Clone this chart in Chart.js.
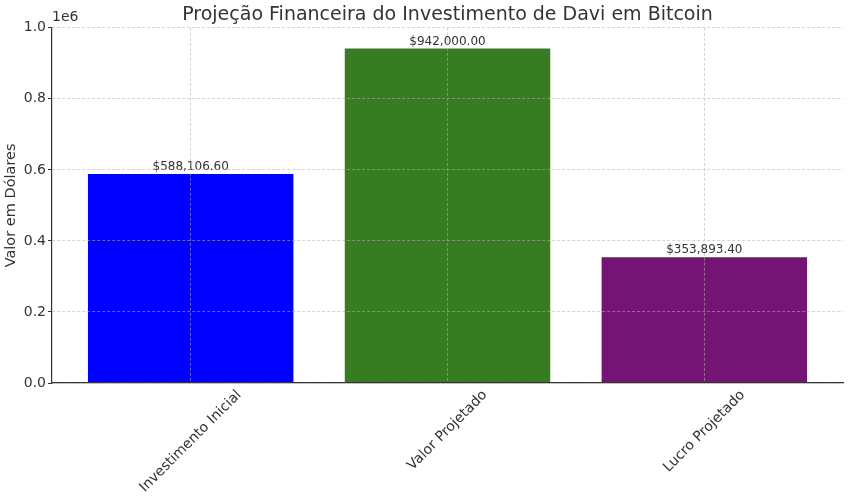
<!DOCTYPE html>
<html lang="pt">
<head>
<meta charset="utf-8">
<title>Projeção Financeira do Investimento de Davi em Bitcoin</title>
<script src="https://cdn.jsdelivr.net/npm/chart.js@4/dist/chart.umd.min.js"></script>
<style>
  html, body { margin: 0; padding: 0; background: #fff; }
  #wrap { width: 850px; height: 498px; }
</style>
</head>
<body>
<div id="wrap"><canvas id="investChart" width="850" height="498"></canvas></div>
<script>
// Data
const categories = ["Investimento Inicial", "Valor Projetado", "Lucro Projetado"];
const values = [588106.60, 942000.00, 353893.40];
const barColors = ["#0000ff", "#387c22", "#741474"];
const yTicks = [0, 200000, 400000, 600000, 800000, 1000000];

const FONT = "'DejaVu Sans', sans-serif";
const TEXT = "#333333";
const GRID = "rgba(176,176,176,0.7)";

const money = (v) =>
  "$" + v.toLocaleString("en-US", { minimumFractionDigits: 2, maximumFractionDigits: 2 });

// value labels, rotated category labels and the "1e6" offset text
const extras = {
  id: "extras",
  afterDatasetsDraw(chart) {
    const ctx = chart.ctx;
    const meta = chart.getDatasetMeta(0);
    ctx.save();
    ctx.font = "12px " + FONT;
    ctx.fillStyle = TEXT;
    ctx.textAlign = "center";
    ctx.textBaseline = "bottom";
    meta.data.forEach((bar, i) => {
      ctx.fillText(money(values[i]), bar.x, bar.y - 1);
    });
    ctx.restore();
  },
  afterDraw(chart) {
    const ctx = chart.ctx;
    const area = chart.chartArea;
    const xs = chart.scales.x;
    ctx.save();
    ctx.fillStyle = TEXT;
    ctx.font = "14px " + FONT;
    // category labels, 45 degrees, centred under the tick like matplotlib
    categories.forEach((label, i) => {
      const x = xs.getPixelForValue(i);
      const w = ctx.measureText(label).width;
      const h = (w + 14) * Math.SQRT1_2;
      ctx.save();
      ctx.translate(x, area.bottom + 5 + h / 2);
      ctx.rotate(-Math.PI / 4);
      ctx.textAlign = "center";
      ctx.textBaseline = "middle";
      ctx.fillText(label, 0, 0);
      ctx.restore();
    });
    // offset text of the y axis
    ctx.textAlign = "left";
    ctx.textBaseline = "bottom";
    ctx.fillText("1e6", area.left, area.top - 3);
    ctx.restore();
  },
};

const ctx = document.getElementById("investChart").getContext("2d");
new Chart(ctx, {
  type: "bar",
  data: {
    datasets: [
      {
        data: categories.map((c, i) => ({ x: i, y: values[i] })),
        backgroundColor: barColors,
        borderWidth: 0,
        barPercentage: 0.8,
        categoryPercentage: 1.0,
      },
    ],
  },
  options: {
    responsive: false,
    animation: false,
    devicePixelRatio: 1,
    layout: { padding: { left: 0, right: 7, top: 0, bottom: 115 } },
    plugins: {
      legend: { display: false },
      tooltip: { enabled: false },
      title: {
        display: true,
        fullSize: false,
        text: "Projeção Financeira do Investimento de Davi em Bitcoin",
        color: TEXT,
        font: { family: FONT, size: 19, weight: "normal" },
        padding: { top: 4, bottom: 1 },
      },
    },
    scales: {
      x: {
        type: "linear",
        offset: false,
        min: -0.54,
        max: 2.54,
        afterBuildTicks: (scale) => {
          scale.ticks = categories.map((c, i) => ({ value: i }));
        },
        afterFit: (scale) => {
          scale.height = 0;
        },
        ticks: { display: false },
        grid: { z: 1, offset: false, drawTicks: false, color: GRID, lineWidth: 0.8 },
        border: { z: 1, display: true, color: "#333333", width: 1.2, dash: [3, 2] },
      },
      y: {
        min: 0,
        max: 1000000,
        afterBuildTicks: (scale) => {
          scale.ticks = yTicks.map((v) => ({ value: v }));
        },
        afterFit: (scale) => {
          scale.width = 52;
        },
        ticks: {
          padding: 2,
          color: TEXT,
          font: { family: FONT, size: 14 },
          callback: (v) => (v / 1e6).toFixed(1),
        },
        title: {
          display: true,
          text: "Valor em Dólares",
          color: TEXT,
          font: { family: FONT, size: 14.5 },
          padding: { top: 3, bottom: 0 },
        },
        grid: {
          z: 1,
          drawTicks: true,
          tickLength: 4,
          tickColor: "#333333",
          tickWidth: 1,
          color: GRID,
          lineWidth: 0.8,
        },
        border: { z: 1, display: true, color: "#333333", width: 1.2, dash: [3, 2] },
      },
    },
  },
  plugins: [extras],
});
</script>
</body>
</html>
